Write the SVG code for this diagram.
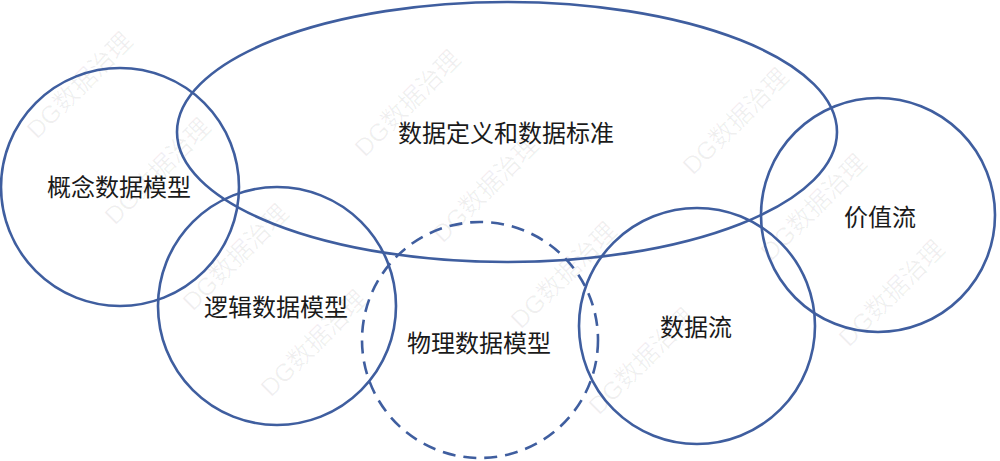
<svg xmlns="http://www.w3.org/2000/svg" width="1000" height="461" viewBox="0 0 1000 461">
<style>
.wm{font-family:"Liberation Sans","Noto Sans CJK SC",sans-serif;font-size:25px;fill:#000;fill-opacity:0.06}
.shape{fill:none;stroke:#3f5e9f;stroke-width:2.6}
.dash{stroke-dasharray:13 8}
.lbl{font-family:"Noto Sans CJK SC","Noto Sans CJK JP",sans-serif;font-size:24px;fill:#1a1a1a;text-anchor:middle}
</style>
<rect width="1000" height="461" fill="#ffffff"/>
<g id="watermarks">
<text class="wm" transform="translate(37,140) rotate(-45)">DG数据治理</text>
<text class="wm" transform="translate(115,226) rotate(-45)">DG数据治理</text>
<text class="wm" transform="translate(193,312) rotate(-45)">DG数据治理</text>
<text class="wm" transform="translate(271,398) rotate(-45)">DG数据治理</text>
<text class="wm" transform="translate(365,158) rotate(-45)">DG数据治理</text>
<text class="wm" transform="translate(443,244) rotate(-45)">DG数据治理</text>
<text class="wm" transform="translate(521,330) rotate(-45)">DG数据治理</text>
<text class="wm" transform="translate(599,416) rotate(-45)">DG数据治理</text>
<text class="wm" transform="translate(693,176) rotate(-45)">DG数据治理</text>
<text class="wm" transform="translate(771,262) rotate(-45)">DG数据治理</text>
<text class="wm" transform="translate(849,348) rotate(-45)">DG数据治理</text>
</g>
<g id="connectors"></g>
<g id="node-standards">
<ellipse class="shape" cx="507" cy="132" rx="330" ry="130"/>
<text class="lbl" x="506" y="142">数据定义和数据标准</text>
</g>
<g id="node-conceptual">
<circle class="shape" cx="120" cy="187" r="119"/>
<text class="lbl" x="119" y="196">概念数据模型</text>
</g>
<g id="node-logical">
<circle class="shape" cx="277" cy="306" r="119"/>
<text class="lbl" x="276" y="316">逻辑数据模型</text>
</g>
<g id="node-physical">
<circle class="shape dash" cx="480" cy="340" r="118"/>
<text class="lbl" x="479" y="352">物理数据模型</text>
</g>
<g id="node-dataflow">
<circle class="shape" cx="697" cy="326" r="118"/>
<text class="lbl" x="696" y="336">数据流</text>
</g>
<g id="node-valueflow">
<circle class="shape" cx="878" cy="215" r="117"/>
<text class="lbl" x="880" y="226">价值流</text>
</g>
</svg>
